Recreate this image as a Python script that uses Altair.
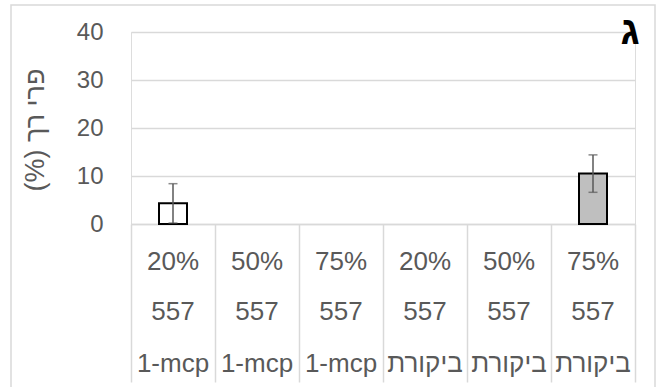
import altair as alt
import pandas as pd

# ---- data ----
ids = ["a", "b", "c", "d", "e", "f"]
treatment = ["1-mcp", "1-mcp", "1-mcp", "ביקורת", "ביקורת", "ביקורת"]
cultivar = ["557", "557", "557", "557", "557", "557"]
percent = ["20%", "50%", "75%", "20%", "50%", "75%"]
soft_fruit = [4.3, 0, 0, 0, 0, 10.5]
error = [4.1, 0, 0, 0, 0, 3.9]

y_ticks = [0, 10, 20, 30, 40]
# right-to-left embedding so that "(%)" sits at the reading end, as in the original
y_title = "\u202Bפרי רך (%)\u202C"
panel_label = "ג"

df = pd.DataFrame({
    "id": ids, "treatment": treatment, "cultivar": cultivar,
    "percent": percent, "value": soft_fruit, "err": error,
})
df["low"] = df["value"] - df["err"]
df["high"] = df["value"] + df["err"]

FONT = "Liberation Sans"
GREY_TXT = "#595959"
GRID = "#d9d9d9"

base = alt.Chart(df)

x_enc = alt.X("id:N", sort=ids,
              scale=alt.Scale(paddingInner=0, paddingOuter=0),
              axis=alt.Axis(title=None, labels=False, tickBand="extent",
                            tickSize=158, tickColor=GRID, tickWidth=1.5,
                            domainColor=GRID, domainWidth=1.5, grid=False))
y_scale = alt.Scale(domain=[0, 40], nice=False)

bars = base.transform_filter("datum.value > 0").mark_bar(
    width=28, stroke="black", strokeWidth=2
).encode(
    x=x_enc,
    y=alt.Y("value:Q", scale=y_scale,
            axis=alt.Axis(values=y_ticks, title=None, domain=False, ticks=False,
                          labelFontSize=24, labelColor=GREY_TXT, labelFont=FONT,
                          labelPadding=28, gridColor=GRID, gridWidth=1.5)),
    fill=alt.Fill("treatment:N",
                  scale=alt.Scale(domain=["1-mcp", "ביקורת"], range=["white", "#bfbfbf"]),
                  legend=None),
)

err_rule = base.transform_filter("datum.err > 0").mark_rule(
    color=GREY_TXT, strokeWidth=1.5
).encode(x=alt.X("id:N", sort=ids), y=alt.Y("low:Q", scale=y_scale), y2="high:Q")

cap_hi = base.transform_filter("datum.err > 0").mark_tick(
    color=GREY_TXT, size=9, thickness=1.5
).encode(x=alt.X("id:N", sort=ids), y=alt.Y("high:Q", scale=y_scale))

cap_lo = base.transform_filter("datum.err > 0").mark_tick(
    color=GREY_TXT, size=9, thickness=1.5
).encode(x=alt.X("id:N", sort=ids), y=alt.Y("low:Q", scale=y_scale))

def row(field, ypx):
    return base.mark_text(fontSize=26, font=FONT, color=GREY_TXT,
                          baseline="middle", align="center").encode(
        x=alt.X("id:N", sort=ids), y=alt.value(ypx), text=f"{field}:N")

row1 = row("percent", 230)
row2 = row("cultivar", 280)
row3 = row("treatment", 332)

one = pd.DataFrame({"t": [y_title], "g": [panel_label]})
title_txt = alt.Chart(one).mark_text(
    fontSize=27, font=FONT, color=GREY_TXT, angle=270,
    align="center", baseline="middle"
).encode(x=alt.value(-95), y=alt.value(98), text="t:N")

label_txt = alt.Chart(one).mark_text(
    fontSize=40, font=FONT, fontWeight="bold", color="black",
    align="center", baseline="middle"
).encode(x=alt.value(499), y=alt.value(0), text="g:N")

border = alt.Chart(one).mark_rect(
    fill=None, stroke=GRID, strokeWidth=1.5
).encode(x=alt.value(-120), x2=alt.value(524), y=alt.value(-27), y2=alt.value(362))

chart = alt.layer(
    border, bars, err_rule, cap_hi, cap_lo, row1, row2, row3, title_txt, label_txt
).properties(
    width=504, height=192,
    autosize=alt.AutoSizeParams(type="none"),
    padding={"left": 131, "top": 32, "right": 27, "bottom": 163},
).configure_view(stroke=None).configure(background="white")

chart.save("out.html", embed_options={"renderer": "svg", "actions": False})
